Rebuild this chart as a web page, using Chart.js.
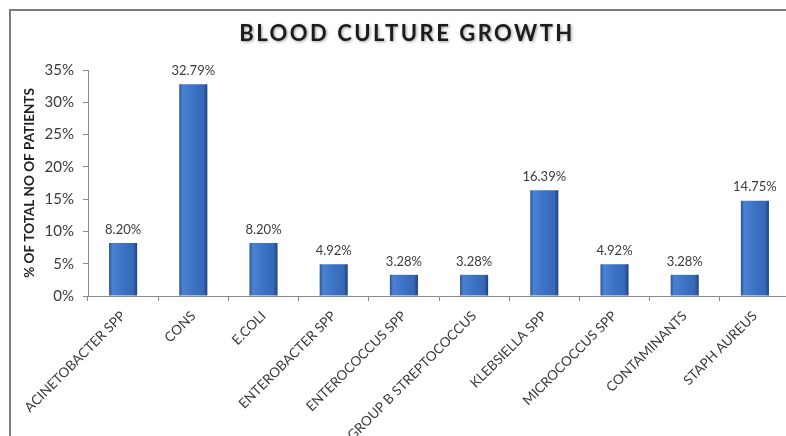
<!DOCTYPE html>
<html>
<head>
<meta charset="utf-8">
<script src="https://cdn.jsdelivr.net/npm/chart.js@4.4.1/dist/chart.umd.min.js"></script>
<style>
  html, body { margin: 0; padding: 0; background: #fff; overflow: hidden; }
  body { width: 786px; height: 436px; position: relative; }
  .frame {
    position: absolute;
    left: 9px;
    top: 9px;
    width: 790px;
    height: 440px;
    border: 2px solid #7c7c7c;
    background: #fff;
  }
</style>
</head>
<body>
<div class="frame">
  <canvas id="growthChart" width="790" height="440"></canvas>
</div>
<script>
/* Blood culture growth — share of patients per organism */
const organisms = [
  "ACINETOBACTER SPP", "CONS", "E.COLI", "ENTEROBACTER SPP", "ENTEROCOCCUS SPP",
  "GROUP B STREPTOCOCCUS", "KLEBSIELLA SPP", "MICROCOCCUS SPP", "CONTAMINANTS", "STAPH AUREUS"
];
const percentOfPatients = [8.20, 32.79, 8.20, 4.92, 3.28, 3.28, 16.39, 4.92, 3.28, 14.75];
const yTicks = [0, 5, 10, 15, 20, 25, 30, 35];
const chartTitle = "BLOOD CULTURE GROWTH";

const FONT = "Lato, 'Open Sans', sans-serif";
const TEXT = "#3a3a3a";
const AXIS = "#8a8a8a";

// Horizontal shading across each bar, like a rounded cylinder
function barGradient(ctx) {
  const chart = ctx.chart;
  const xScale = chart.scales.x;
  if (!xScale || ctx.dataIndex === undefined) return "#3f74c4";
  const cx = xScale.getPixelForValue(ctx.dataIndex);
  const half = (xScale.width / organisms.length) * 0.4 / 2;
  if (!isFinite(cx) || !isFinite(half) || half <= 0) return "#3f74c4";
  const g = chart.ctx.createLinearGradient(cx - half, 0, cx + half, 0);
  g.addColorStop(0, "#2a5296");
  g.addColorStop(0.12, "#4a82d2");
  g.addColorStop(0.5, "#3c72c4");
  g.addColorStop(0.86, "#3568b8");
  g.addColorStop(1, "#1f417a");
  return g;
}

// Percentage printed above every bar
const valueLabels = {
  id: "valueLabels",
  afterDatasetsDraw(chart) {
    const { ctx } = chart;
    const meta = chart.getDatasetMeta(0);
    ctx.save();
    ctx.font = "13px " + FONT;
    ctx.fillStyle = TEXT;
    ctx.textAlign = "center";
    ctx.textBaseline = "bottom";
    meta.data.forEach((bar, i) => {
      ctx.fillText(percentOfPatients[i].toFixed(2) + "%", bar.x, bar.y - 7);
    });
    ctx.restore();
  },
};

// Spaced-out title with a soft drop shadow, centred on the canvas
const spacedTitle = {
  id: "spacedTitle",
  afterDraw(chart) {
    const { ctx, width } = chart;
    ctx.save();
    ctx.font = "bold 22px " + FONT;
    ctx.letterSpacing = "2.5px";
    ctx.fillStyle = "#1c1c1c";
    ctx.textAlign = "center";
    ctx.textBaseline = "middle";
    ctx.shadowColor = "rgba(0,0,0,0.4)";
    ctx.shadowBlur = 3;
    ctx.shadowOffsetX = 1;
    ctx.shadowOffsetY = 1;
    ctx.fillText(chartTitle, width / 2 + 1, 23);
    ctx.restore();
  },
};

Chart.defaults.font.family = FONT;
Chart.defaults.color = TEXT;

new Chart(document.getElementById("growthChart").getContext("2d"), {
  type: "bar",
  data: {
    labels: organisms,
    datasets: [
      {
        data: percentOfPatients,
        backgroundColor: barGradient,
        borderWidth: 0,
        barPercentage: 0.4,
        categoryPercentage: 1,
      },
    ],
  },
  options: {
    responsive: false,
    animation: false,
    layout: { padding: { left: 0, right: 11, top: 59, bottom: 0 } },
    plugins: {
      legend: { display: false },
      tooltip: { enabled: false },
      title: { display: false },
    },
    scales: {
      x: {
        border: { display: true, color: AXIS, width: 1 },
        grid: { display: true, drawOnChartArea: false, drawTicks: true, tickLength: 5, color: AXIS, offset: true },
        ticks: {
          color: TEXT,
          font: { size: 13.5 },
          minRotation: 45,
          maxRotation: 45,
          autoSkip: false,
          padding: 7,
        },
        afterFit(scale) { scale.height = 155; },
      },
      y: {
        min: 0,
        max: 35,
        afterBuildTicks(scale) { scale.ticks = yTicks.map((v) => ({ value: v })); },
        border: { display: true, color: AXIS, width: 1 },
        grid: { display: true, drawOnChartArea: false, drawTicks: true, tickLength: 5, color: AXIS },
        ticks: {
          color: TEXT,
          font: { size: 15 },
          padding: 9,
          callback: (v) => v + "%",
        },
        title: {
          display: true,
          text: "% OF TOTAL NO OF PATIENTS",
          color: "#222",
          font: { size: 13.5, weight: "bold" },
          padding: { top: 11, bottom: 0 },
        },
        afterFit(scale) { scale.width = 77; },
      },
    },
  },
  plugins: [valueLabels, spacedTitle],
});
</script>
</body>
</html>
